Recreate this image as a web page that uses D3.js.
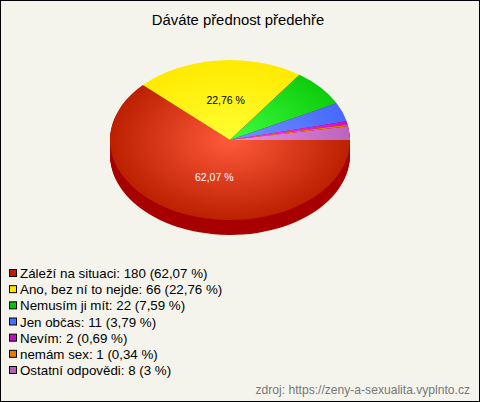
<!DOCTYPE html>
<html><head><meta charset="utf-8">
<script src="https://cdn.jsdelivr.net/npm/d3@7"></script>
<style>html,body{margin:0;padding:0;background:#f5f4ec}svg{display:block}text{font-family:"Liberation Sans",Arial,sans-serif}</style>
</head><body><div id="c"></div>
<script>
const titleText = "Dáváte přednost předehře";
const sourceText = "zdroj: https://zeny-a-sexualita.vyplnto.cz";
const categories = ["Záleží na situaci","Ano, bez ní to nejde","Nemusím ji mít","Jen občas","Nevím","nemám sex","Ostatní odpovědi"];
const counts = [180,66,22,11,2,1,8];
const percents = ["62,07","22,76","7,59","3,79","0,69","0,34","3"];
const shares = [62.07,22.76,7.59,3.79,0.69,0.34,2.76];
const inner = ["#ff5a3c","#ffff33","#40ff40","#7094ff","#ff40ff","#ff9a30","#e890e4"];
const outer = ["#bb2000","#ffea00","#0ccc0c","#4668ff","#cc10cc","#e07000","#bc64bc"];
const swatch = ["#c01a00","#ffe600","#10c010","#4a70ff","#c010c0","#e87800","#b860b0"];
const sideColor = "#a80000";
const sliceLabels = [{i:0,text:"62,07 %",fill:"#fff",dx:6.5},{i:1,text:"22,76 %",fill:"#000",dx:1.5}];

const W=480,H=402,cx=230,cy=140,rx=120,ry=80,depth=15;
const svg=d3.select("#c").append("svg").attr("width",W).attr("height",H);
svg.append("rect").attr("width",W).attr("height",H).attr("fill","#f5f4ec");
svg.append("rect").attr("x",.5).attr("y",.5).attr("width",W-1).attr("height",H-1).attr("fill","none").attr("stroke","#000");
svg.append("text").attr("x",238).attr("y",25).attr("text-anchor","middle").attr("font-size",14.85).attr("fill","#000").text(titleText);

const pie=d3.pie().sort(null).startAngle(Math.PI/2).endAngle(Math.PI/2+2*Math.PI)(shares);
const r=d3.scaleLinear().domain([0,1]).range([0,rx]);
const arc=d3.arc().innerRadius(0).outerRadius(r(1));
const defs=svg.append("defs");
pie.forEach((d,i)=>{
  const g=defs.append("radialGradient").attr("id","g"+i).attr("gradientUnits","userSpaceOnUse").attr("cx",0).attr("cy",0).attr("r",rx);
  g.append("stop").attr("offset",0).attr("stop-color",inner[i]);
  g.append("stop").attr("offset",1).attr("stop-color",outer[i]);
});
const yScale=ry/rx;
// side wall
const side=svg.append("g");
d3.range(depth,0,-1).forEach(k=>{
  side.append("g").attr("transform",`translate(${cx},${cy+k}) scale(1,${yScale})`)
    .selectAll("path").data(pie).join("path").attr("d",arc).attr("fill",sideColor);
});
// top
svg.append("g").attr("transform",`translate(${cx},${cy}) scale(1,${yScale})`)
  .selectAll("path").data(pie).join("path").attr("d",arc).attr("fill",(d,i)=>`url(#g${i})`);
// labels
sliceLabels.forEach(l=>{
  const d=pie[l.i],c=arc.centroid(d);
  svg.append("text").attr("x",cx+c[0]+l.dx).attr("y",cy+c[1]*yScale+4).attr("text-anchor","middle")
    .attr("font-size",10.5).attr("fill",l.fill).text(l.text);
});
// legend
const ly=d3.scalePoint().domain(d3.range(categories.length)).range([273,370]);
const leg=svg.append("g").selectAll("g").data(categories).join("g").attr("transform",(d,i)=>`translate(0,${ly(i)})`);
leg.append("rect").attr("x",9.5).attr("y",-3.5).attr("width",7).attr("height",7).attr("fill",(d,i)=>swatch[i]).attr("stroke","#000");
leg.append("text").attr("x",20).attr("y",5).attr("font-size",13.33).attr("fill","#000")
  .text((d,i)=>`${d}: ${counts[i]} (${percents[i]} %)`);
svg.append("text").attr("x",470).attr("y",394).attr("text-anchor","end").attr("font-size",12.1).attr("fill","#777").text(sourceText);
</script></body></html>
